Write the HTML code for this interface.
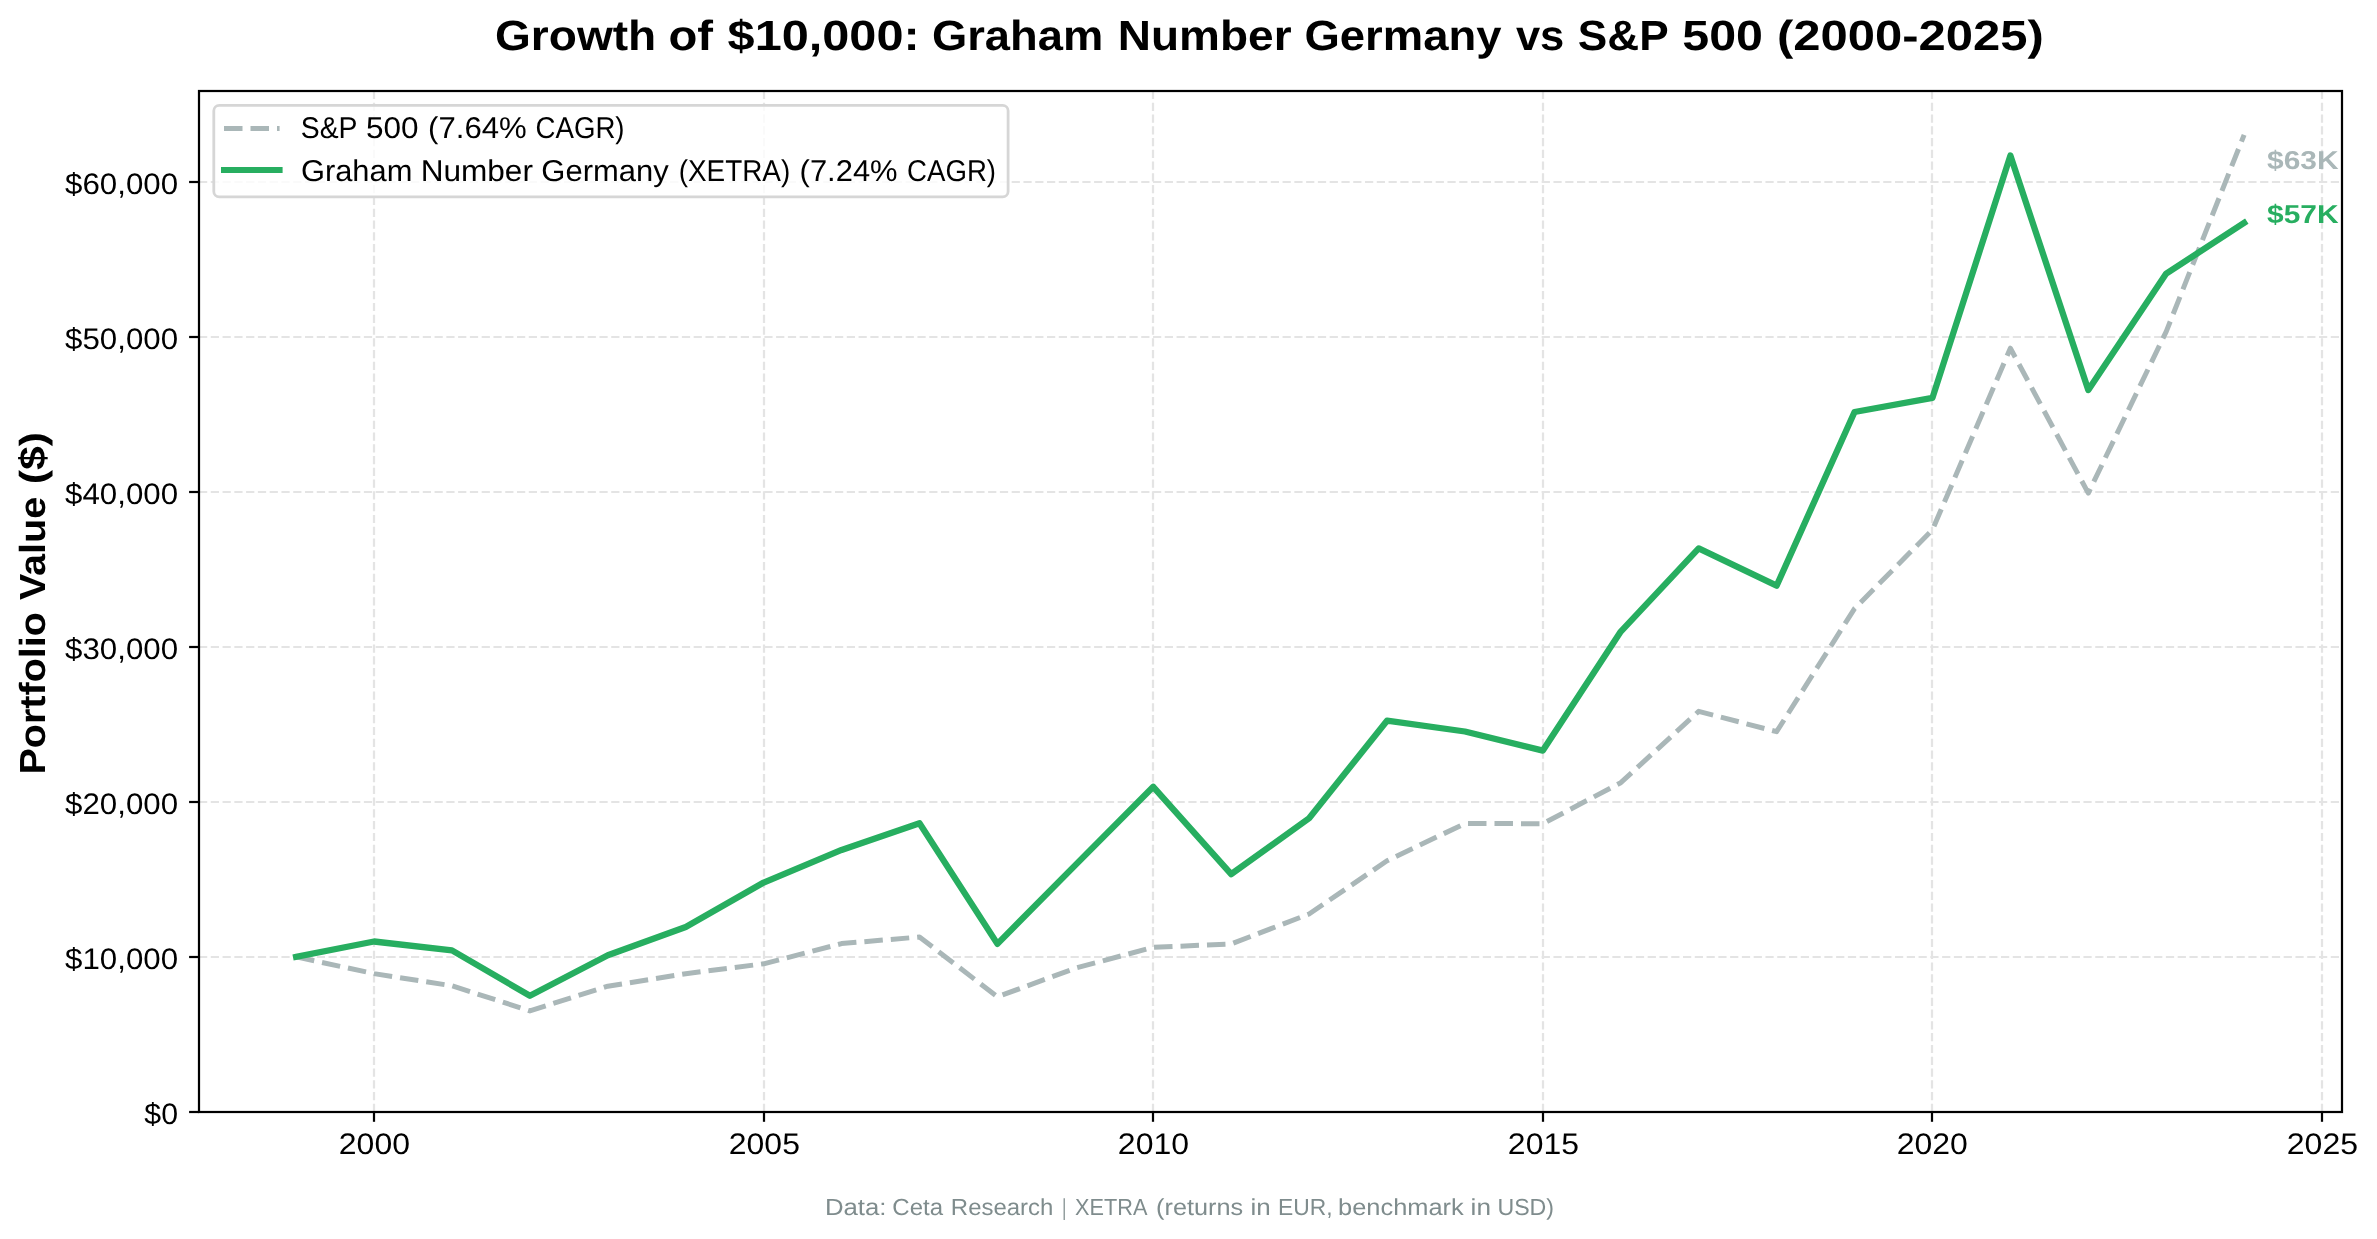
<!DOCTYPE html>
<html lang="en"><head><meta charset="utf-8">
<title>Growth of $10,000: Graham Number Germany vs S&amp;P 500 (2000-2025)</title>
<style>
html,body{margin:0;padding:0;background:#fff;}
body{width:2377px;height:1239px;overflow:hidden;}
svg{display:block;will-change:transform;}
svg text{font-family:"Liberation Sans",sans-serif;white-space:pre;text-rendering:geometricPrecision;}
</style></head><body>
<svg width="2377" height="1239" viewBox="0 0 2377 1239" role="img" aria-label="Line chart: growth of $10,000, Graham Number Germany vs S&amp;P 500, 2000-2025">
<rect x="0" y="0" width="2377" height="1239" fill="#ffffff"/>
<g stroke="#e4e4e4" stroke-width="2.22" stroke-dasharray="8.2222 3.5556" fill="none">
<path d="M374.00 1112.00V91.00"/>
<path d="M764.00 1112.00V91.00"/>
<path d="M1153.00 1112.00V91.00"/>
<path d="M1543.00 1112.00V91.00"/>
<path d="M1932.00 1112.00V91.00"/>
<path d="M2322.00 1112.00V91.00"/>
<path d="M199.00 957.00H2342.00"/>
<path d="M199.00 802.00H2342.00"/>
<path d="M199.00 647.00H2342.00"/>
<path d="M199.00 492.00H2342.00"/>
<path d="M199.00 337.00H2342.00"/>
<path d="M199.00 182.00H2342.00"/>
</g>
<polyline points="296.13,956.90 374.05,973.60 451.97,985.80 529.89,1010.90 607.81,986.20 685.73,973.70 763.65,963.80 841.57,943.60 919.49,937.00 997.41,996.80 1075.33,968.20 1153.25,947.30 1231.17,944.00 1309.09,914.00 1387.01,860.80 1464.93,823.50 1542.85,823.70 1620.77,782.70 1698.69,711.30 1776.61,731.70 1854.53,608.60 1932.45,529.80 2010.37,348.20 2088.29,493.10 2166.21,331.60 2244.13,134.80" fill="none" stroke="#aab7b8" stroke-width="5" stroke-dasharray="18.5 8" stroke-linejoin="round" stroke-linecap="butt"/>
<polyline points="296.13,956.90 374.05,941.50 451.97,950.40 529.89,995.80 607.81,955.30 685.73,927.00 763.65,882.60 841.57,849.90 919.49,823.20 997.41,943.90 1075.33,865.10 1153.25,786.80 1231.17,874.10 1309.09,818.30 1387.01,720.70 1464.93,731.50 1542.85,750.60 1620.77,631.60 1698.69,548.40 1776.61,585.70 1854.53,412.00 1932.45,397.90 2010.37,155.60 2088.29,390.10 2166.21,273.60 2244.13,222.90" fill="none" stroke="#27ae60" stroke-width="6.3" stroke-linejoin="round" stroke-linecap="square"/>
<g stroke="#000" stroke-width="2.22" fill="none">
<path d="M374.00 1112.00v9.8"/>
<path d="M764.00 1112.00v9.8"/>
<path d="M1153.00 1112.00v9.8"/>
<path d="M1543.00 1112.00v9.8"/>
<path d="M1932.00 1112.00v9.8"/>
<path d="M2322.00 1112.00v9.8"/>
<path d="M199.00 1112.00h-9.9"/>
<path d="M199.00 957.00h-9.9"/>
<path d="M199.00 802.00h-9.9"/>
<path d="M199.00 647.00h-9.9"/>
<path d="M199.00 492.00h-9.9"/>
<path d="M199.00 337.00h-9.9"/>
<path d="M199.00 182.00h-9.9"/>
</g>
<rect x="199.00" y="91.00" width="2143.00" height="1021.00" fill="none" stroke="#000" stroke-width="2.22"/>
<rect x="213.8" y="105.3" width="794.3" height="91.6" rx="5.5" ry="5.5" fill="#ffffff" fill-opacity="0.8" stroke="#d6d6d6" stroke-width="2.78"/>
<path d="M224.0 128.4H279.6" stroke="#aab7b8" stroke-width="5" stroke-dasharray="18.5 8" fill="none"/>
<path d="M224.0 170.0H279.6" stroke="#27ae60" stroke-width="6.0" stroke-linecap="square" fill="none"/>
<text id="title_0" x="494.99" y="50.00" font-size="42.20" font-weight="bold" fill="#000" textLength="161.24" lengthAdjust="spacingAndGlyphs">Growth</text>
<text id="title_1" x="668.40" y="50.00" font-size="42.20" font-weight="bold" fill="#000" textLength="44.61" lengthAdjust="spacingAndGlyphs">of</text>
<text id="title_2" x="727.62" y="50.00" font-size="42.20" font-weight="bold" fill="#000" textLength="192.09" lengthAdjust="spacingAndGlyphs">$10,000:</text>
<text id="title_3" x="931.96" y="50.00" font-size="42.20" font-weight="bold" fill="#000" textLength="171.28" lengthAdjust="spacingAndGlyphs">Graham</text>
<text id="title_4" x="1117.84" y="50.00" font-size="42.20" font-weight="bold" fill="#000" textLength="173.74" lengthAdjust="spacingAndGlyphs">Number</text>
<text id="title_5" x="1304.41" y="50.00" font-size="42.20" font-weight="bold" fill="#000" textLength="197.10" lengthAdjust="spacingAndGlyphs">Germany</text>
<text id="title_6" x="1515.93" y="50.00" font-size="42.20" font-weight="bold" fill="#000" textLength="48.39" lengthAdjust="spacingAndGlyphs">vs</text>
<text id="title_7" x="1577.80" y="50.00" font-size="42.20" font-weight="bold" fill="#000" textLength="90.83" lengthAdjust="spacingAndGlyphs">S&amp;P</text>
<text id="title_8" x="1682.31" y="50.00" font-size="42.20" font-weight="bold" fill="#000" textLength="80.61" lengthAdjust="spacingAndGlyphs">500</text>
<text id="title_9" x="1776.94" y="50.00" font-size="42.20" font-weight="bold" fill="#000" textLength="266.78" lengthAdjust="spacingAndGlyphs">(2000-2025)</text>
<text id="ylabel_0" transform="translate(45.00 774.60) rotate(-90)" x="0" y="0" font-size="36.30" font-weight="bold" fill="#000" textLength="162.63" lengthAdjust="spacingAndGlyphs">Portfolio</text>
<text id="ylabel_1" transform="translate(45.00 600.12) rotate(-90)" x="0" y="0" font-size="36.30" font-weight="bold" fill="#000" textLength="103.41" lengthAdjust="spacingAndGlyphs">Value</text>
<text id="ylabel_2" transform="translate(45.00 484.26) rotate(-90)" x="0" y="0" font-size="36.30" font-weight="bold" fill="#000" textLength="52.22" lengthAdjust="spacingAndGlyphs">($)</text>
<text id="yt0" x="144.37" y="1124.00" font-size="29.70" font-weight="normal" fill="#000" textLength="33.72" lengthAdjust="spacingAndGlyphs">$0</text>
<text id="yt1" x="65.08" y="969.00" font-size="29.70" font-weight="normal" fill="#000" textLength="112.95" lengthAdjust="spacingAndGlyphs">$10,000</text>
<text id="yt2" x="65.08" y="814.00" font-size="29.70" font-weight="normal" fill="#000" textLength="112.95" lengthAdjust="spacingAndGlyphs">$20,000</text>
<text id="yt3" x="65.08" y="659.00" font-size="29.70" font-weight="normal" fill="#000" textLength="112.95" lengthAdjust="spacingAndGlyphs">$30,000</text>
<text id="yt4" x="65.08" y="504.00" font-size="29.70" font-weight="normal" fill="#000" textLength="112.95" lengthAdjust="spacingAndGlyphs">$40,000</text>
<text id="yt5" x="65.08" y="349.00" font-size="29.70" font-weight="normal" fill="#000" textLength="112.95" lengthAdjust="spacingAndGlyphs">$50,000</text>
<text id="yt6" x="65.08" y="194.00" font-size="29.70" font-weight="normal" fill="#000" textLength="112.95" lengthAdjust="spacingAndGlyphs">$60,000</text>
<text id="xt2000" x="338.82" y="1154.00" font-size="29.70" font-weight="normal" fill="#000" textLength="71.17" lengthAdjust="spacingAndGlyphs">2000</text>
<text id="xt2005" x="728.84" y="1154.00" font-size="29.70" font-weight="normal" fill="#000" textLength="71.08" lengthAdjust="spacingAndGlyphs">2005</text>
<text id="xt2010" x="1117.87" y="1154.00" font-size="29.70" font-weight="normal" fill="#000" textLength="71.17" lengthAdjust="spacingAndGlyphs">2010</text>
<text id="xt2015" x="1507.88" y="1154.00" font-size="29.70" font-weight="normal" fill="#000" textLength="71.04" lengthAdjust="spacingAndGlyphs">2015</text>
<text id="xt2020" x="1896.69" y="1154.00" font-size="29.70" font-weight="normal" fill="#000" textLength="71.15" lengthAdjust="spacingAndGlyphs">2020</text>
<text id="xt2025" x="2286.75" y="1154.00" font-size="29.70" font-weight="normal" fill="#000" textLength="71.27" lengthAdjust="spacingAndGlyphs">2025</text>
<text id="leg1_0" x="300.78" y="138.00" font-size="30.00" font-weight="normal" fill="#000" textLength="56.75" lengthAdjust="spacingAndGlyphs">S&amp;P</text>
<text id="leg1_1" x="365.92" y="138.00" font-size="30.00" font-weight="normal" fill="#000" textLength="52.56" lengthAdjust="spacingAndGlyphs">500</text>
<text id="leg1_2" x="428.14" y="138.00" font-size="30.00" font-weight="normal" fill="#000" textLength="98.58" lengthAdjust="spacingAndGlyphs">(7.64%</text>
<text id="leg1_3" x="535.57" y="138.00" font-size="30.00" font-weight="normal" fill="#000" textLength="88.99" lengthAdjust="spacingAndGlyphs">CAGR)</text>
<text id="leg2_0" x="300.90" y="181.00" font-size="30.00" font-weight="normal" fill="#000" textLength="111.47" lengthAdjust="spacingAndGlyphs">Graham</text>
<text id="leg2_1" x="420.65" y="181.00" font-size="30.00" font-weight="normal" fill="#000" textLength="112.29" lengthAdjust="spacingAndGlyphs">Number</text>
<text id="leg2_2" x="541.32" y="181.00" font-size="30.00" font-weight="normal" fill="#000" textLength="127.38" lengthAdjust="spacingAndGlyphs">Germany</text>
<text id="leg2_3" x="678.64" y="181.00" font-size="30.00" font-weight="normal" fill="#000" textLength="111.58" lengthAdjust="spacingAndGlyphs">(XETRA)</text>
<text id="leg2_4" x="799.62" y="181.00" font-size="30.00" font-weight="normal" fill="#000" textLength="97.98" lengthAdjust="spacingAndGlyphs">(7.24%</text>
<text id="leg2_5" x="907.11" y="181.00" font-size="30.00" font-weight="normal" fill="#000" textLength="88.94" lengthAdjust="spacingAndGlyphs">CAGR)</text>
<text id="end1" x="2267.05" y="169.00" font-size="25.90" font-weight="bold" fill="#aab7b8" textLength="71.45" lengthAdjust="spacingAndGlyphs">$63K</text>
<text id="end2" x="2267.09" y="223.00" font-size="25.90" font-weight="bold" fill="#27ae60" textLength="71.51" lengthAdjust="spacingAndGlyphs">$57K</text>
<text id="foot_0" x="824.92" y="1215.00" font-size="23.20" font-weight="normal" fill="#7f8c8d" textLength="61.57" lengthAdjust="spacingAndGlyphs">Data:</text>
<text id="foot_1" x="892.39" y="1215.00" font-size="23.20" font-weight="normal" fill="#7f8c8d" textLength="50.75" lengthAdjust="spacingAndGlyphs">Ceta</text>
<text id="foot_2" x="950.88" y="1215.00" font-size="23.20" font-weight="normal" fill="#7f8c8d" textLength="102.52" lengthAdjust="spacingAndGlyphs">Research</text>
<text id="foot_3" x="1062.13" y="1215.00" font-size="23.20" font-weight="normal" fill="#7f8c8d" textLength="3.92" lengthAdjust="spacingAndGlyphs">|</text>
<text id="foot_4" x="1075.11" y="1215.00" font-size="23.20" font-weight="normal" fill="#7f8c8d" textLength="72.35" lengthAdjust="spacingAndGlyphs">XETRA</text>
<text id="foot_5" x="1156.14" y="1215.00" font-size="23.20" font-weight="normal" fill="#7f8c8d" textLength="86.96" lengthAdjust="spacingAndGlyphs">(returns</text>
<text id="foot_6" x="1250.43" y="1215.00" font-size="23.20" font-weight="normal" fill="#7f8c8d" textLength="20.25" lengthAdjust="spacingAndGlyphs">in</text>
<text id="foot_7" x="1277.96" y="1215.00" font-size="23.20" font-weight="normal" fill="#7f8c8d" textLength="54.54" lengthAdjust="spacingAndGlyphs">EUR,</text>
<text id="foot_8" x="1338.10" y="1215.00" font-size="23.20" font-weight="normal" fill="#7f8c8d" textLength="125.65" lengthAdjust="spacingAndGlyphs">benchmark</text>
<text id="foot_9" x="1470.62" y="1215.00" font-size="23.20" font-weight="normal" fill="#7f8c8d" textLength="20.41" lengthAdjust="spacingAndGlyphs">in</text>
<text id="foot_10" x="1497.41" y="1215.00" font-size="23.20" font-weight="normal" fill="#7f8c8d" textLength="56.63" lengthAdjust="spacingAndGlyphs">USD)</text>
</svg>
</body></html>
